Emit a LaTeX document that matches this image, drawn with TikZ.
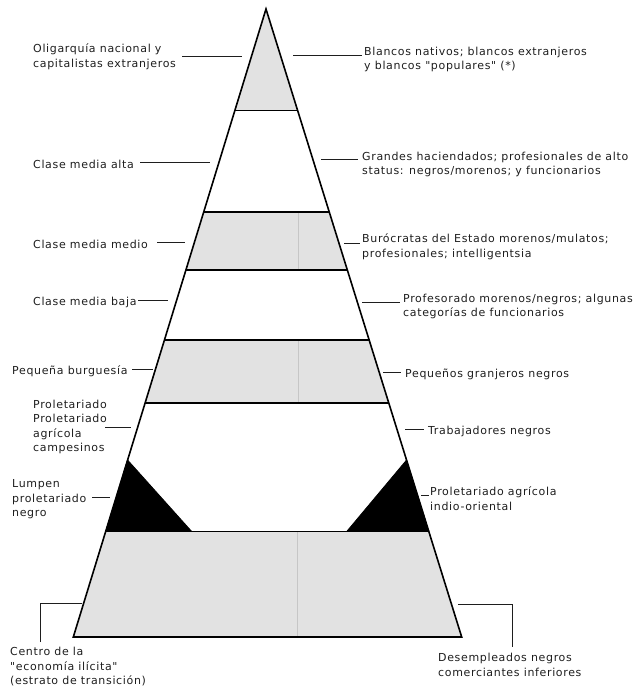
\documentclass[tikz,border=0pt]{standalone}
\usepackage{fontspec}
\setmainfont[LetterSpace=6,Ligatures=TeXOff]{DejaVu Sans}
\usetikzlibrary{calc}
\definecolor{bandgray}{RGB}{226,226,226}
\definecolor{inkgray}{RGB}{30,30,30}
\newcommand{\dq}{\symbol{34}}
\begin{document}
\begin{tikzpicture}[x=1pt,y=-1pt,
  lbl/.style={anchor=north west, inner sep=0pt, align=left, text=inkgray, font=\fontsize{11}{14.5}\selectfont},
  conn/.style={line width=1pt, draw=inkgray},
  edge/.style={line width=1.6pt, draw=black, line join=miter},
  bandline/.style={line width=1.4pt, draw=black},
  grayfill/.style={fill=bandgray, draw=none},
  blackfill/.style={fill=black, draw=black, line width=0.8pt},
  seam/.style={draw=gray!45, line width=0.6pt}]
\useasboundingbox (0,0) rectangle (632,688);
% pyramid corners
\coordinate (A) at (266,9);
\coordinate (BL) at (73.3,637);
\coordinate (BR) at (461.7,637);
% band levels on each edge
\foreach \n/\t in {1/0.1616,2/0.3232,3/0.4156,4/0.5271,5/0.6274,6/0.7182,7/0.8320}{
  \coordinate (L\n) at ($(A)!\t!(BL)$);
  \coordinate (R\n) at ($(A)!\t!(BR)$);
}
\coordinate (TLin) at (191.7,531.5);
\coordinate (TRin) at (346.7,531.5);
% gray bands
\fill[grayfill] (A) -- (R1) -- (L1) -- cycle;
\fill[grayfill] (L2) -- (R2) -- (R3) -- (L3) -- cycle;
\fill[grayfill] (L4) -- (R4) -- (R5) -- (L5) -- cycle;
\fill[grayfill] (L7) -- (R7) -- (BR) -- (BL) -- cycle;
% faint seams
\draw[seam] (298,212) -- (298,270);
\draw[seam] (298,340) -- (298,403);
\draw[seam] (297,531.5) -- (297,637);
% black triangles
\filldraw[blackfill] (L6) -- (L7) -- (TLin) -- cycle;
\filldraw[blackfill] (R6) -- (R7) -- (TRin) -- cycle;
% band lines
\foreach \n in {1,2,3,4,5,7}{ \draw[bandline] (L\n) -- (R\n); }
% outline
\draw[edge] (A) -- (BR) -- (BL) -- cycle;

% ---------- left labels ----------
\node[lbl] (lab1) at (33,44) {Oligarquía nacional y\\capitalistas extranjeros};
\node[lbl] (lab2) at (33,159.5) {Clase media alta};
\node[lbl] (lab3) at (33,239.5) {Clase media medio};
\node[lbl] (lab4) at (33,296.5) {Clase media baja};
\node[lbl] (lab5) at (12,365.5) {Pequeña burguesía};
\node[lbl] (lab6) at (33,399.5) {Proletariado\\Proletariado\\agrícola\\campesinos};
\node[lbl] (lab7) at (12,479.5) {Lumpen\\proletariado\\negro};
\node[lbl] (lab8) at (10,647) {Centro de la\\\dq economía ilícita\dq\\(estrato de transición)};
% ---------- right labels ----------
\node[lbl] (rab1) at (364,46.5) {Blancos nativos; blancos extranjeros\\y blancos \dq populares\dq\ (*)};
\node[lbl] (rab2) at (362,151.5) {Grandes haciendados; profesionales de alto\\status: negros/morenos; y funcionarios};
\node[lbl] (rab3) at (362,233.5) {Burócratas del Estado morenos/mulatos;\\profesionales; intelligentsia};
\node[lbl] (rab4) at (403,293.5) {Profesorado morenos/negros; algunas\\categorías de funcionarios};
\node[lbl] (rab5) at (405,368.5) {Pequeños granjeros negros};
\node[lbl] (rab6) at (428,425.5) {Trabajadores negros};
\node[lbl] (rab7) at (430,486.5) {Proletariado agrícola\\indio-oriental};
\node[lbl] (rab8) at (438,653) {Desempleados negros\\comerciantes inferiores};

% ---------- connector end points ----------
\coordinate (c1a) at (182,56);  \coordinate (c1b) at (242,56);
\coordinate (c2a) at (140,162); \coordinate (c2b) at (210,162);
\coordinate (c3a) at (157,242); \coordinate (c3b) at (185,242);
\coordinate (c4a) at (138,300); \coordinate (c4b) at (168,300);
\coordinate (c5a) at (132,369); \coordinate (c5b) at (153,369);
\coordinate (c6a) at (105,427); \coordinate (c6b) at (131,427);
\coordinate (c7a) at (92,497);  \coordinate (c7b) at (110,497);
\coordinate (c8a) at (40,642);  \coordinate (c8k) at (40,603);  \coordinate (c8b) at (82,603);
\coordinate (d1a) at (293,55);  \coordinate (d1b) at (362,55);
\coordinate (d2a) at (321,159); \coordinate (d2b) at (358,159);
\coordinate (d3a) at (344,243); \coordinate (d3b) at (360,243);
\coordinate (d4a) at (362,302); \coordinate (d4b) at (400,302);
\coordinate (d5a) at (383,372); \coordinate (d5b) at (401,372);
\coordinate (d6a) at (405,429); \coordinate (d6b) at (424,429);
\coordinate (d7a) at (421,495); \coordinate (d7b) at (429,495);
\coordinate (d8a) at (458,604); \coordinate (d8k) at (512,604); \coordinate (d8b) at (512,647);

\foreach \p in {c1,c2,c3,c4,c5,c6,c7,d1,d2,d3,d4,d5,d6,d7}{ \draw[conn] (\p a) -- (\p b); }
\draw[conn] (c8a) -- (c8k) -- (c8b);
\draw[conn] (d8a) -- (d8k) -- (d8b);
\end{tikzpicture}
\end{document}
